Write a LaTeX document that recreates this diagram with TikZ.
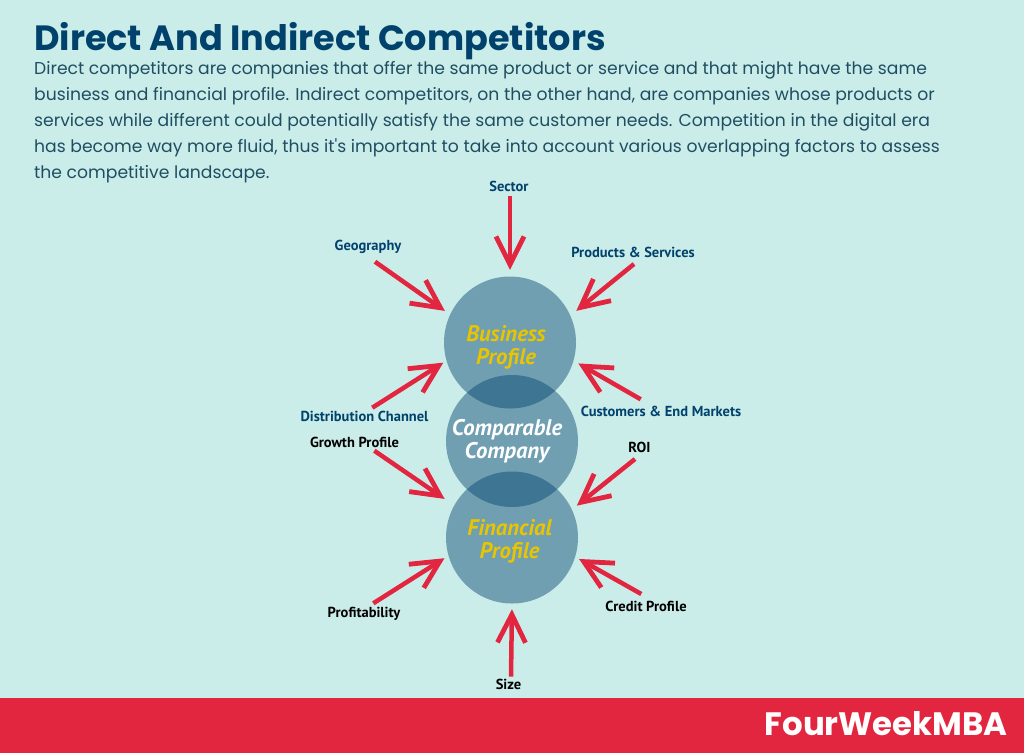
\documentclass[tikz,border=0pt]{standalone}
\usepackage{fontspec}
\usepackage{tikz}
\usetikzlibrary{arrows.meta}
\usepackage{xcolor}
\newfontfamily\headfont{Poppins}
\newfontfamily\labfont{PT Sans}
\definecolor{bgmint}{HTML}{CBEDE9}
\definecolor{navy}{HTML}{01426D}
\definecolor{bodyink}{HTML}{1F4E63}
\definecolor{alertred}{HTML}{E2263F}
\definecolor{gold}{HTML}{E9C400}
\begin{document}
\begin{tikzpicture}[x=1pt,y=-1pt,>={Straight Barb[length=28pt,width=28pt,line width=4.8pt]},
  push/.style={->,alertred,line width=4.5pt},
  blob/.style={circle,minimum size=132pt,inner sep=0pt,fill=navy,fill opacity=0.45},
  factor/.style={font=\labfont\bfseries\fontsize{14.5}{16}\selectfont,inner sep=0pt},
  blobtext/.style={font=\labfont\bfseries\itshape\fontsize{22.6}{23}\selectfont,align=center,inner sep=0pt}]
\useasboundingbox (0,0) rectangle (1024,753);
\fill[bgmint] (0,0) rectangle (1024,753);
\fill[alertred] (0,698) rectangle (1024,753);
\node[anchor=base west,inner sep=0pt,navy,font=\headfont\bfseries\fontsize{35.1}{38}\selectfont] (title) at (34,50) {Direct And Indirect Competitors};
\node[anchor=base west,inner sep=0pt,align=left,bodyink,font=\headfont\fontsize{17.2}{25.8}\selectfont] (intro) at (34,178) {Direct competitors are companies that offer the same product or service and that might have the same\\business and financial profile. Indirect competitors, on the other hand, are companies whose products or\\services while different could potentially satisfy the same customer needs. Competition in the digital era\\has become way more fluid, thus it's important to take into account various overlapping factors to assess\\the competitive landscape.};
\node[anchor=base east,inner sep=0pt,white,font=\headfont\bfseries\fontsize{32.4}{34}\selectfont] (brand) at (1008,735) {FourWeekMBA};

\node[blob] (business) at (510,342.5) {};
\node[blob] (comparable) at (512,441) {};
\node[blob] (financial) at (512,537.5) {};
\node[blobtext,gold] (businesstxt) at (506,347) {Business\\Profile};
\node[blobtext,white] (comparabletxt) at (507,441) {Comparable\\Company};
\node[blobtext,gold] (financialtxt) at (509.5,541) {Financial\\Profile};

\node[factor,navy] (sector) at (509,186) {Sector};
\node[factor,navy] (geography) at (368,246.5) {Geography};
\node[factor,navy] (products) at (633,252) {Products \& Services};
\node[factor,navy] (distribution) at (364.5,416.5) {Distribution Channel};
\node[factor,navy] (customers) at (661,411.5) {Customers \& End Markets};
\node[factor] (growth) at (354.5,442) {Growth Profile};
\node[factor] (roi) at (639.5,447) {ROI};
\node[factor] (profitability) at (364,613.5) {Profitability};
\node[factor] (credit) at (646,606) {Credit Profile};
\node[factor] (size) at (508.5,684) {Size};

\coordinate (sectorend) at (510,196);
\coordinate (geographyend) at (375,261.7);
\coordinate (productsend) at (634,264);
\coordinate (distributionend) at (372.3,407.7);
\coordinate (customersend) at (640.7,399.3);
\coordinate (growthend) at (374.3,450.7);
\coordinate (roiend) at (635,459);
\coordinate (profitabilityend) at (373.3,603.3);
\coordinate (creditend) at (641.3,594);
\coordinate (sizeend) at (511,676.7);

\draw[push,shorten >=6.5pt] (sectorend) -- (business.90);
\draw[push,shorten >=6.3pt] (geographyend) -- (business.155);
\draw[push,shorten >=7.5pt] (productsend) -- (business.24);
\draw[push,shorten >=3.6pt] (distributionend) -- (business.196);
\draw[push,shorten >=5.4pt] (customersend) -- (business.344);
\draw[push,shorten >=11.5pt] (growthend) -- (financial.151);
\draw[push,shorten >=6.2pt] (roiend) -- (financial.25);
\draw[push,shorten >=4.6pt] (profitabilityend) -- (financial.196);
\draw[push,shorten >=4.3pt] (creditend) -- (financial.343);
\draw[push,shorten >=5.5pt] (sizeend) -- (financial.270);
\end{tikzpicture}
\end{document}
